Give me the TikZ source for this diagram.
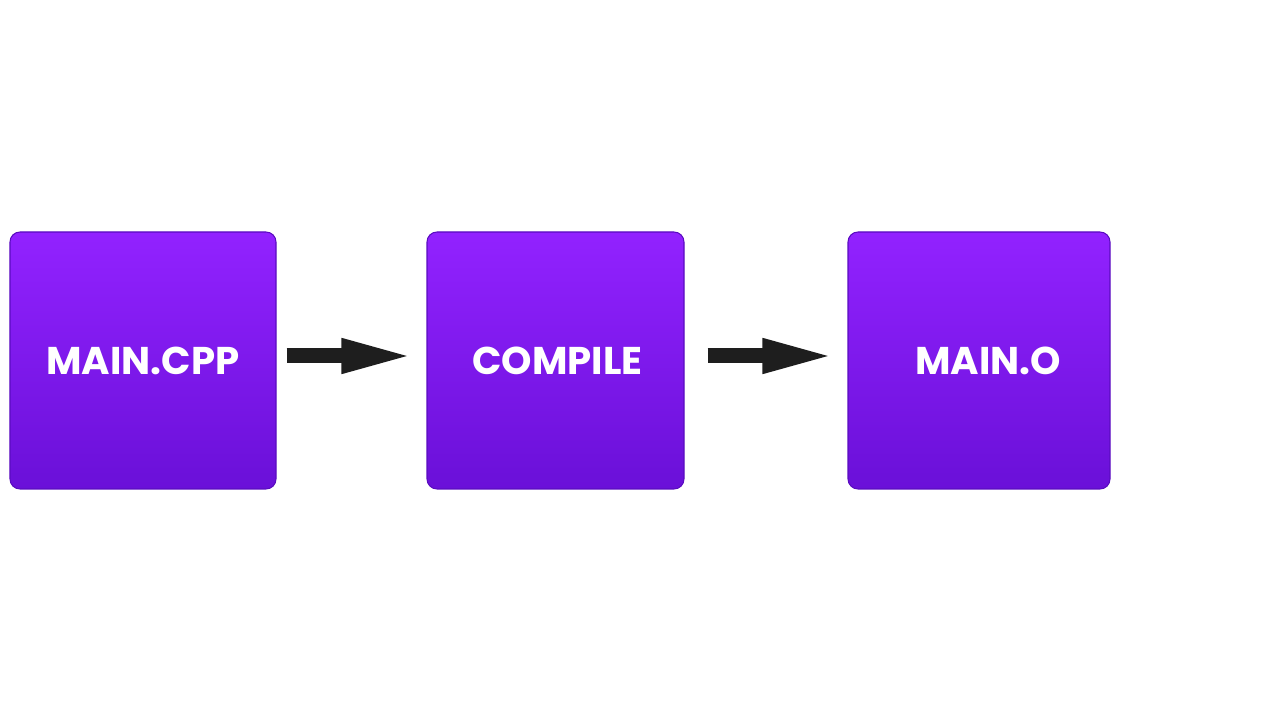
\documentclass[tikz,border=0pt]{standalone}
\usepackage{fontspec}
\setmainfont{Poppins}
\usetikzlibrary{arrows.meta}
\definecolor{boxtop}{HTML}{9222FF}
\definecolor{boxbot}{HTML}{6A10D8}
\definecolor{boxrim}{HTML}{5A0CC0}
\definecolor{arrowc}{HTML}{1E1E1E}
\tikzset{
  stepbox/.style={minimum width=5.3cm, minimum height=5.14cm, rounded corners=0.2cm,
    top color=boxtop, bottom color=boxbot, draw=boxrim, line width=0.6pt,
    text=white, font=\fontsize{22}{26}\selectfont\bfseries, inner sep=0pt,
    text depth=-0.05cm},
  flow/.style={draw=arrowc, line width=0.3cm, line cap=butt,
    -{Triangle[length=1.48cm,width=0.62cm]}, shorten <=0.2cm, shorten >=0.22cm}
}
\begin{document}
\begin{tikzpicture}
\useasboundingbox (0,0) rectangle (25.6,14.4);
\node[stepbox, minimum width=5.32cm] (a) at (2.86,7.19) {MAIN.CPP};
\node[stepbox, minimum width=5.14cm] (b) at (11.11,7.19) {\hspace*{0.08cm}COMPILE};
\node[stepbox, minimum width=5.24cm] (c) at (19.58,7.19) {\hspace*{0.36cm}MAIN.O};
\draw[flow] ([yshift=0.09cm]a.east) -- ([yshift=0.09cm]b.west);
\draw[flow, shorten <=0.46cm] ([yshift=0.09cm]b.east) -- ([yshift=0.09cm]c.west);
\end{tikzpicture}
\end{document}
